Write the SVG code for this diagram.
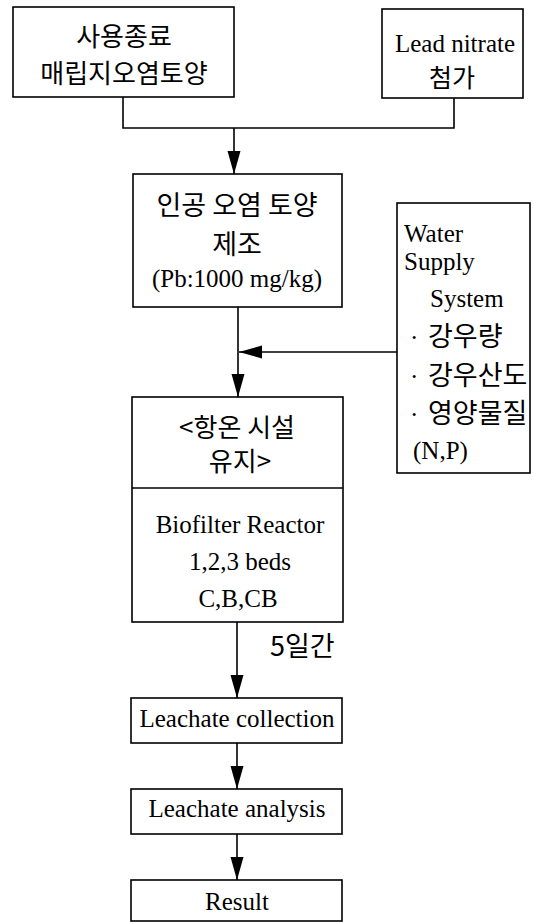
<svg xmlns="http://www.w3.org/2000/svg" width="534" height="922" viewBox="0 0 534 922">
<style>
.box{fill:#fff;stroke:#000;stroke-width:1.6}
.ln{fill:none;stroke:#000;stroke-width:1.6}
text{font-family:"Liberation Serif","Noto Sans CJK KR",serif;font-size:25px;fill:#000}
.c{text-anchor:middle}
.k{font-family:"Noto Sans CJK KR","Liberation Serif",sans-serif;font-size:27px}
</style>
<defs>
<marker id="ah" markerUnits="userSpaceOnUse" markerWidth="24" markerHeight="14" refX="23" refY="6.5" orient="auto">
<path d="M0,0 L23,6.5 L0,13 z" fill="#000"/>
</marker>
</defs>
<rect width="534" height="922" fill="#fff"/>
<g id="connectors">
<path class="ln" d="M123,97 V128 H454 V98"/>
<line class="ln" x1="234" y1="128" x2="234" y2="174" marker-end="url(#ah)"/>
<line class="ln" x1="238" y1="307" x2="238" y2="397" marker-end="url(#ah)"/>
<line class="ln" x1="397" y1="352" x2="239" y2="352" marker-end="url(#ah)"/>
<line class="ln" x1="237" y1="622" x2="237" y2="698" marker-end="url(#ah)"/>
<line class="ln" x1="237" y1="743" x2="237" y2="789" marker-end="url(#ah)"/>
<line class="ln" x1="237" y1="834" x2="237" y2="880" marker-end="url(#ah)"/>
<text class="k" x="270" y="656">5일간</text>
</g>
<g id="n1">
<rect class="box" x="13" y="7" width="221" height="90"/>
<text class="k c" x="124" y="46" style="font-size:26px">사용종료</text>
<text class="k c" x="124" y="83" style="font-size:26px">매립지오염토양</text>
</g>
<g id="n2">
<rect class="box" x="382" y="9" width="141" height="89"/>
<text class="c" x="455" y="52">Lead nitrate</text>
<text class="k c" x="452" y="87" style="font-size:25px">첨가</text>
</g>
<g id="n3">
<rect class="box" x="133" y="174" width="209" height="133"/>
<text class="k c" x="237" y="215">인공 오염 토양</text>
<text class="k c" x="237" y="254">제조</text>
<text class="c" x="237" y="287">(Pb:1000 mg/kg)</text>
</g>
<g id="n4">
<rect class="box" x="397" y="203" width="133" height="270"/>
<text x="404" y="242">Water</text>
<text x="404" y="270">Supply</text>
<text x="430" y="307">System</text>
<text x="410" y="346">·<tspan class="k" x="428">강우량</tspan></text>
<text x="410" y="385">·<tspan class="k" x="428">강우산도</tspan></text>
<text x="410" y="423">·<tspan class="k" x="428">영양물질</tspan></text>
<text x="413" y="459">(N,P)</text>
</g>
<g id="n5">
<rect class="box" x="132" y="397" width="211" height="225"/>
<line class="ln" x1="132" y1="488" x2="343" y2="488"/>
<text class="k c" x="237" y="437" style="font-size:26px">&lt;항온 시설</text>
<text class="k c" x="240" y="471" style="font-size:26px">유지&gt;</text>
<text class="c" x="240" y="533">Biofilter Reactor</text>
<text class="c" x="240" y="570">1,2,3 beds</text>
<text class="c" x="238" y="607">C,B,CB</text>
</g>
<g id="n6">
<rect class="box" x="131" y="698" width="211" height="45"/>
<text class="c" x="237" y="727">Leachate collection</text>
</g>
<g id="n7">
<rect class="box" x="131" y="789" width="211" height="45"/>
<text class="c" x="237" y="817">Leachate analysis</text>
</g>
<g id="n8">
<rect class="box" x="131" y="880" width="211" height="41"/>
<text class="c" x="237" y="910">Result</text>
</g>
</svg>
